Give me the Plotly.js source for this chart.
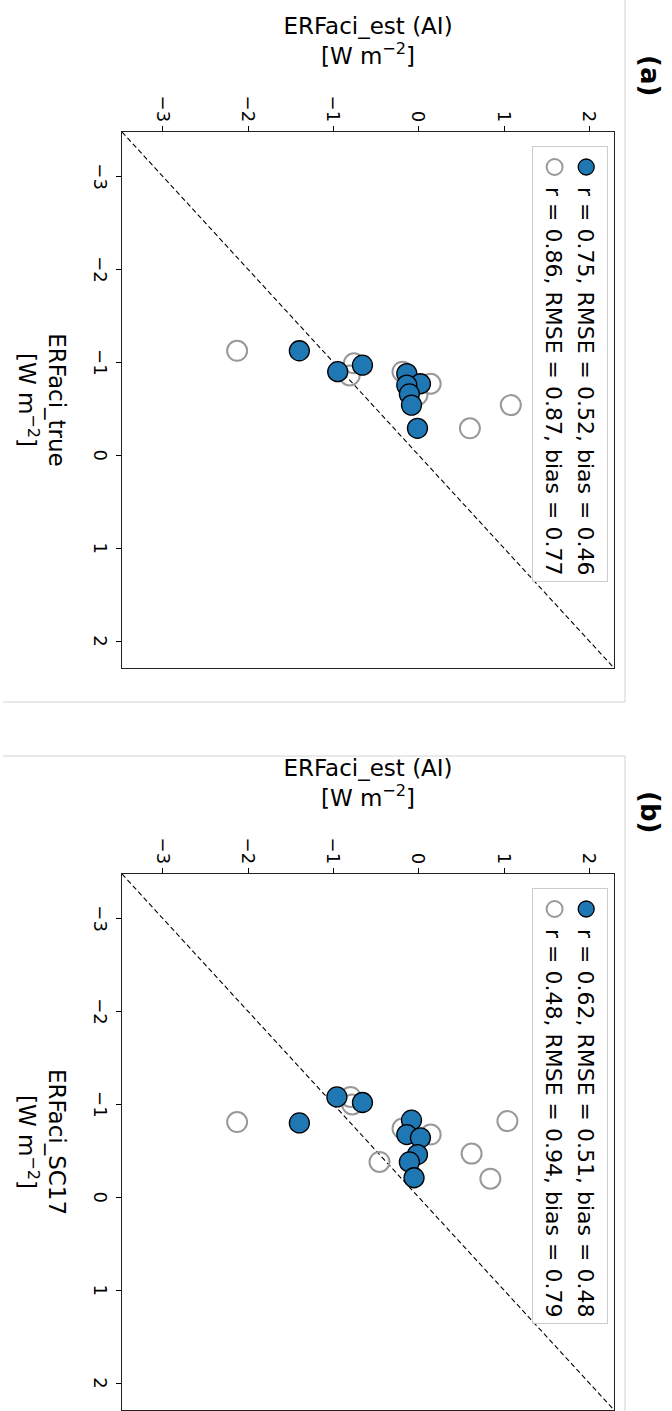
<!DOCTYPE html>
<html><head><meta charset="utf-8">
<script src="https://cdn.plot.ly/plotly-3.0.1.min.js"></script>
<style>
html,body{margin:0;padding:0;width:672px;height:1411px;overflow:hidden;background:#fff;}
#chart{position:absolute;left:0;top:0;width:1411px;height:672px;transform-origin:0 0;transform:translate(672px,0) rotate(90deg);}
</style></head><body><div id="chart"></div>
<script>
// Panel (a): ERFaci_true vs ERFaci_est (AI)
const trueA_ai = [-1.125, -0.90, -0.97, -0.88, -0.77, -0.755, -0.66, -0.54, -0.29];
const estA_ai  = [-1.40, -0.95, -0.66, -0.14, 0.02, -0.14, -0.11, -0.085, -0.015];
const trueA_ref = [-1.125, -0.99, -0.86, -0.90, -0.77, -0.755, -0.65, -0.54, -0.29];
const estA_ref  = [-2.13, -0.76, -0.81, -0.19, 0.14, -0.08, -0.015, 1.08, 0.60];
// Panel (b): ERFaci_SC17 vs ERFaci_est (AI)
const trueB_ai = [-0.80, -1.08, -1.02, -0.83, -0.675, -0.64, -0.46, -0.38, -0.21];
const estB_ai  = [-1.40, -0.96, -0.66, -0.085, -0.14, 0.02, -0.015, -0.11, -0.055];
const trueB_ref = [-0.81, -1.08, -1.00, -0.74, -0.675, -0.38, -0.47, -0.20, -0.82];
const estB_ref  = [-2.13, -0.80, -0.78, -0.19, 0.14, -0.46, 0.62, 0.84, 1.04];

const axisRange = [-3.48, 2.29];
const oneToOne = [-3.48, 2.29];
const tickVals = [-3, -2, -1, 0, 1, 2];
const legendA = ['r = 0.75, RMSE = 0.52, bias = 0.46', 'r = 0.86, RMSE = 0.87, bias = 0.77'];
const legendB = ['r = 0.62, RMSE = 0.51, bias = 0.48', 'r = 0.48, RMSE = 0.94, bias = 0.79'];
const xTitles = ['ERFaci_true<br>[W m<sup>−2</sup>]', 'ERFaci_SC17<br>[W m<sup>−2</sup>]'];
const yTitle = 'ERFaci_est (AI)<br>[W m<sup>−2</sup>]';
const panelLabels = ['(a)', '(b)'];

const FONT = 'DejaVu Sans, sans-serif';
const W = 1411, H = 672;

function panelTraces(xa, ya, leg, tAI, eAI, tRef, eRef, labels) {
  return [
    {x: oneToOne, y: oneToOne, xaxis: xa, yaxis: ya, mode: 'lines', showlegend: false,
     line: {color: '#000', width: 1.1, dash: '5px,3px'}, hoverinfo: 'skip'},
    {x: tRef, y: eRef, xaxis: xa, yaxis: ya, mode: 'markers', name: labels[1], legend: leg, legendrank: 2,
     marker: {symbol: 'circle-open', size: 20, color: '#999', line: {width: 2}}},
    {x: tAI, y: eAI, xaxis: xa, yaxis: ya, mode: 'markers', name: labels[0], legend: leg, legendrank: 1,
     marker: {symbol: 'circle', size: 20, color: '#1f77b4', line: {color: '#000', width: 1.3}}}
  ];
}

const data = [].concat(
  panelTraces('x', 'y', 'legend', trueA_ai, estA_ai, trueA_ref, estA_ref, legendA),
  panelTraces('x2', 'y2', 'legend2', trueB_ai, estB_ai, trueB_ref, estB_ref, legendB)
);

function axis(domain, anchor, title, standoff) {
  return {
    domain: domain, anchor: anchor, range: axisRange, tickvals: tickVals,
    ticks: 'outside', ticklen: 5, tickwidth: 1, tickcolor: '#000',
    showline: true, linecolor: '#222', linewidth: 1.3, mirror: true,
    showgrid: false, zeroline: false, automargin: false,
    tickfont: {family: FONT, size: 18, color: '#000'},
    title: {text: title, font: {family: FONT, size: 23, color: '#000'}, standoff: standoff}
  };
}

const yDom = [122 / H, 614 / H];
const legendBase = {
  y: 608 / H, xanchor: 'left', yanchor: 'top', bgcolor: 'rgba(255,255,255,0.85)',
  bordercolor: '#cccccc', borderwidth: 1, font: {family: FONT, size: 22, color: '#000'},
  traceorder: 'normal'
};
const border = {type: 'line', xref: 'paper', yref: 'paper', line: {color: '#d4d4d4', width: 1}};

const layout = {
  width: W, height: H, margin: {l: 0, r: 0, t: 0, b: 0},
  paper_bgcolor: '#fff', plot_bgcolor: '#fff', font: {family: FONT, color: '#000'},
  xaxis: axis([132 / W, 668 / W], 'y', xTitles[0], 26),
  yaxis: axis(yDom, 'x', yTitle, 24),
  xaxis2: axis([874 / W, 1410 / W], 'y2', xTitles[1], 26),
  yaxis2: axis(yDom, 'x2', yTitle, 24),
  legend: Object.assign({x: 146 / W}, legendBase),
  legend2: Object.assign({x: 888 / W}, legendBase),
  shapes: [
    Object.assign({x0: 702 / W, x1: 702 / W, y0: 3 / H, y1: 625 / H}, border),
    Object.assign({x0: 0, x1: 702 / W, y0: 625 / H, y1: 625 / H}, border),
    Object.assign({x0: 756 / W, x1: 756 / W, y0: 3 / H, y1: 625 / H}, border),
    Object.assign({x0: 756 / W, x1: 1, y0: 625 / H, y1: 625 / H}, border)
  ],
  annotations: [
    {text: '<b>' + panelLabels[0] + '</b>', xref: 'paper', yref: 'paper', x: 75 / W, y: 650 / H,
     showarrow: false, xanchor: 'center', yanchor: 'middle', font: {family: FONT, size: 26, color: '#000'}},
    {text: '<b>' + panelLabels[1] + '</b>', xref: 'paper', yref: 'paper', x: 812 / W, y: 650 / H,
     showarrow: false, xanchor: 'center', yanchor: 'middle', font: {family: FONT, size: 26, color: '#000'}}
  ],
  showlegend: true
};

Plotly.newPlot('chart', data, layout, {staticPlot: true, displayModeBar: false});
</script></body></html>
